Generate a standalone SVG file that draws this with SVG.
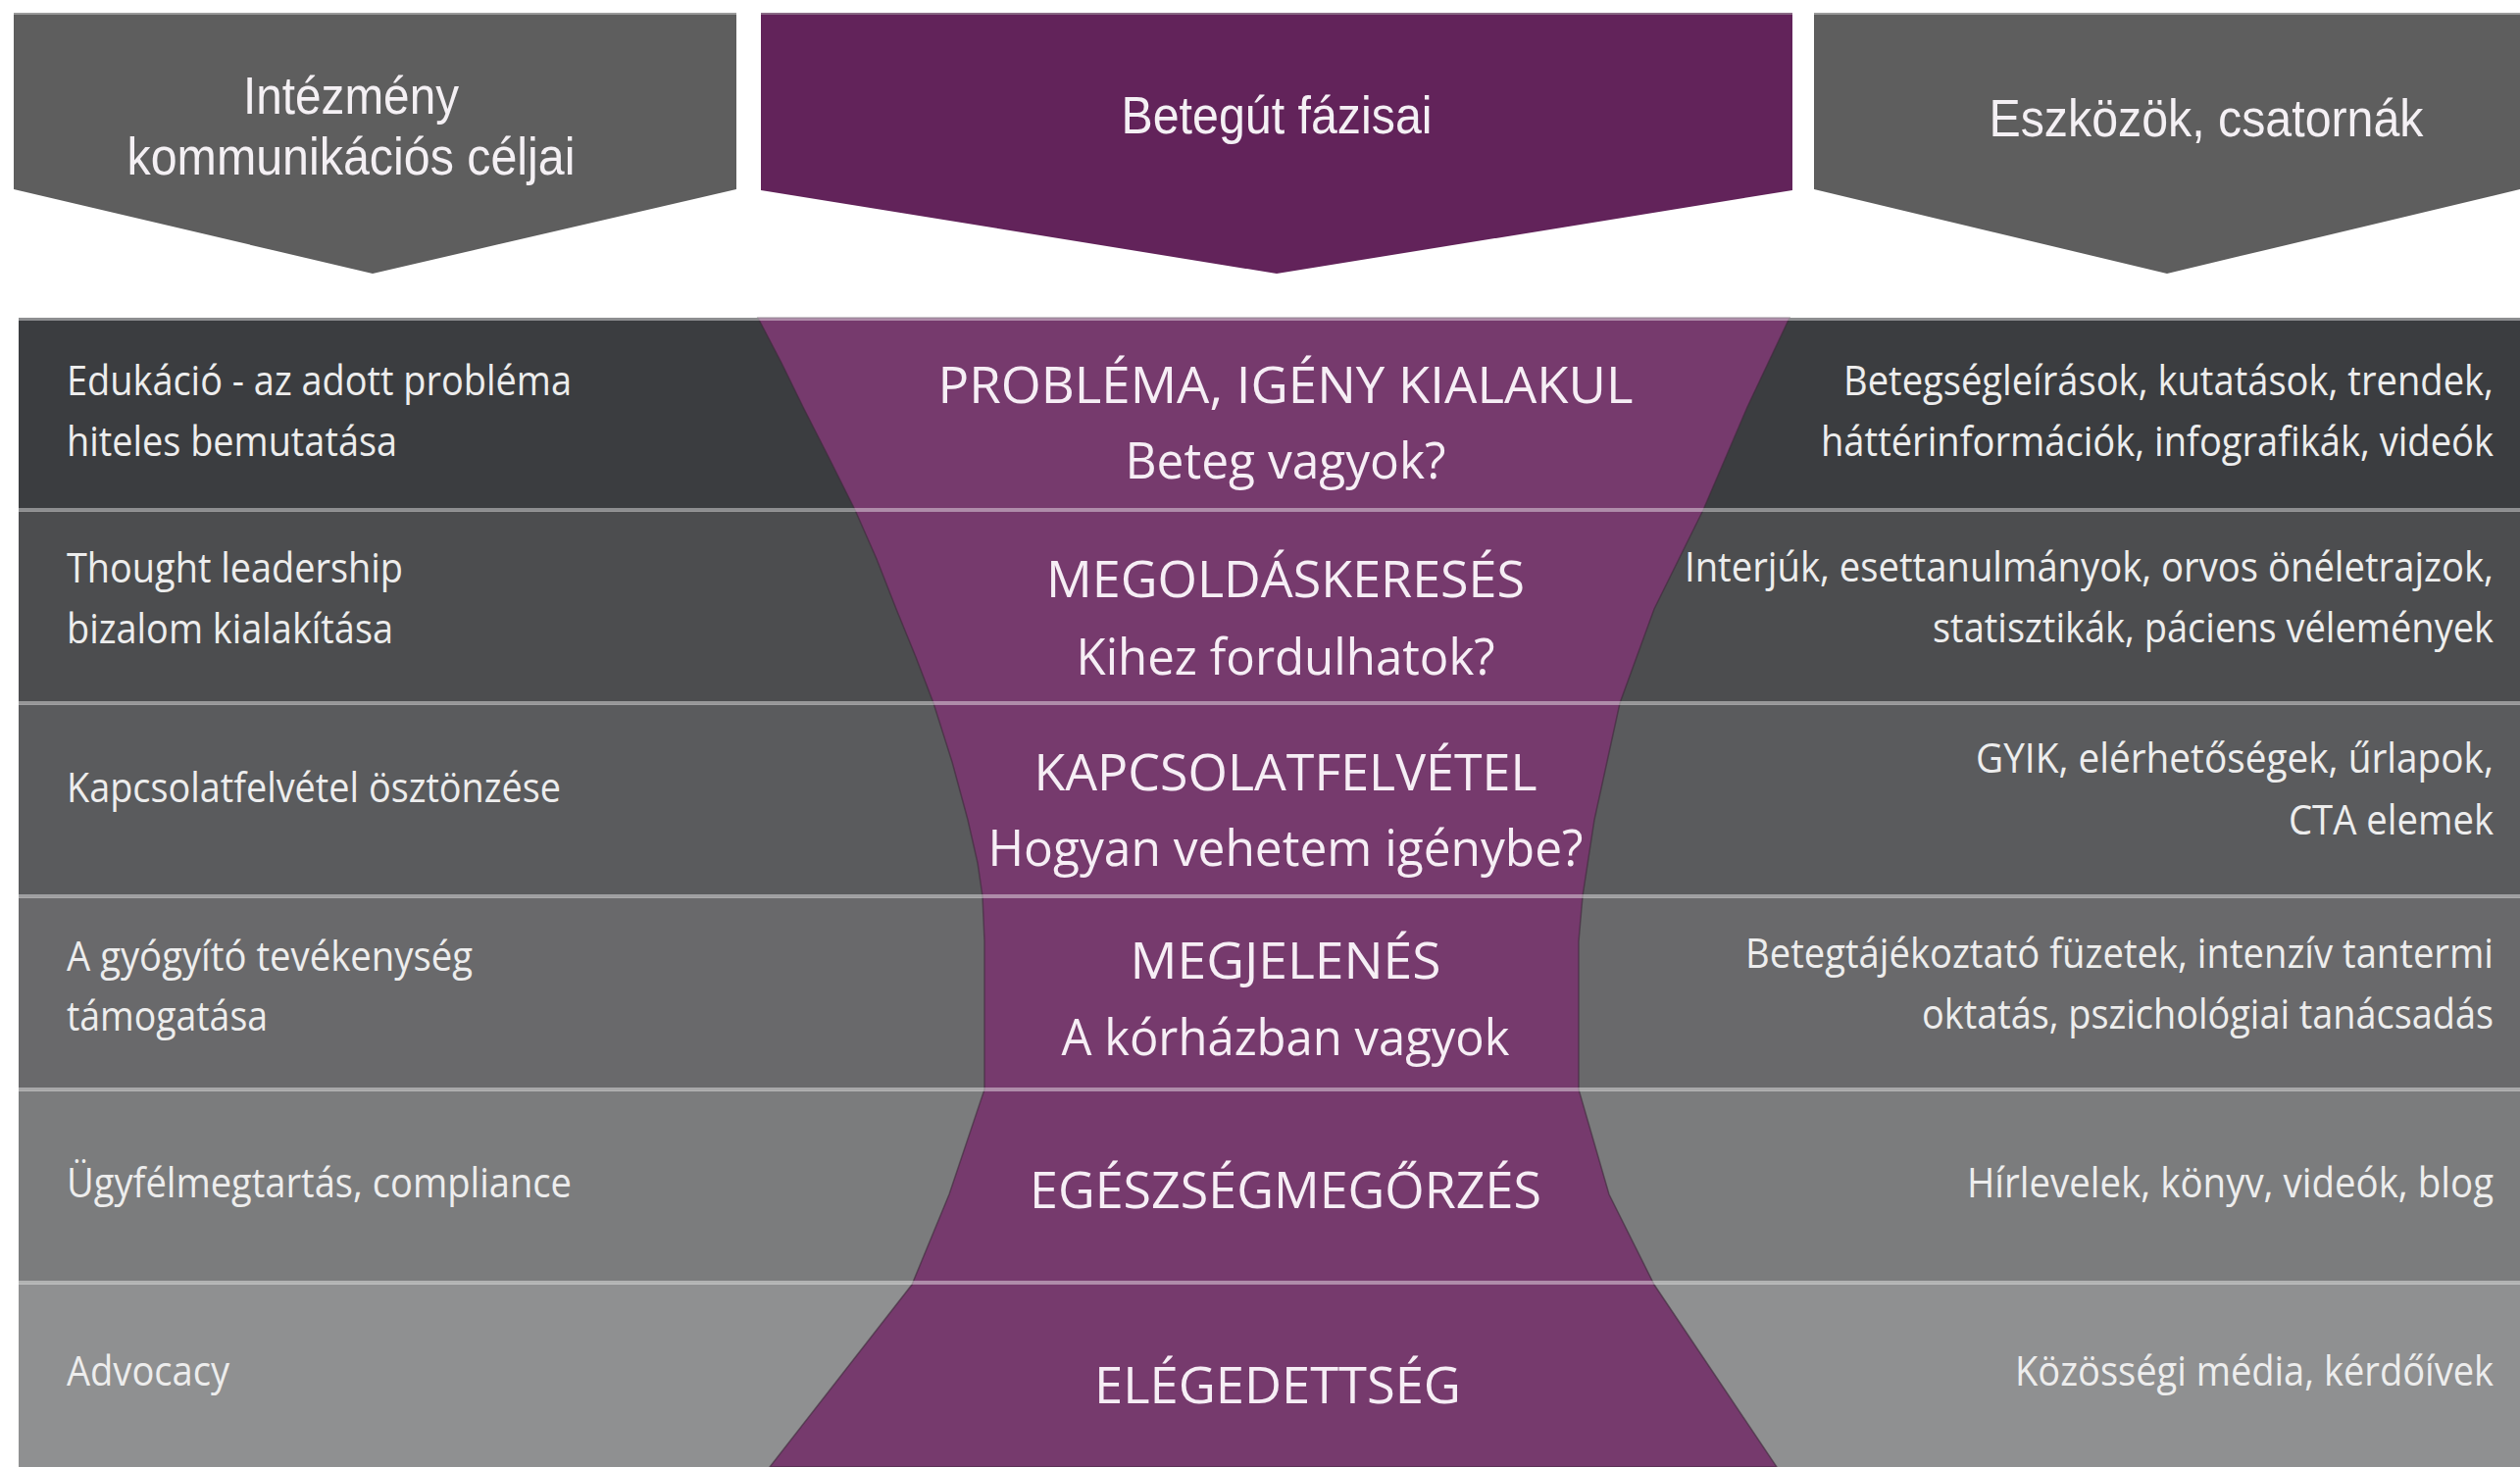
<svg xmlns="http://www.w3.org/2000/svg" width="2570" height="1496" viewBox="0 0 2570 1496">
<style>
.hdr{font-family:"Liberation Sans",Arial,sans-serif;font-size:54px;fill:#f4f0f4;text-anchor:middle}
.lt{font-family:"Open Sans","DejaVu Sans",sans-serif;font-size:42px;fill:#ededed}
.rt{font-family:"Open Sans","DejaVu Sans",sans-serif;font-size:42px;fill:#ededed;text-anchor:end}
.ct{font-family:"Open Sans","DejaVu Sans",sans-serif;font-size:52px;fill:#f6eef5;text-anchor:middle}
.sep{stroke:#ffffff;stroke-opacity:0.42;stroke-width:4}
</style>
<rect x="0" y="0" width="2570" height="1496" fill="#ffffff"/>

<g id="header-left">
<polygon points="14,14 751,14 751,193 380,279 14,193" fill="#5e5e5e"/>
<line x1="14" y1="14" x2="751" y2="14" stroke="#9a9a9a" stroke-width="2"/>
<text class="hdr" x="358" y="116" textLength="220" lengthAdjust="spacingAndGlyphs">Intézmény</text>
<text class="hdr" x="358" y="178" textLength="457" lengthAdjust="spacingAndGlyphs">kommunikációs céljai</text>
</g>

<g id="header-middle">
<polygon points="776,14 1828,14 1828,194 1302,279 776,194" fill="#62235a"/>
<line x1="776" y1="14" x2="1828" y2="14" stroke="#8a6a86" stroke-width="2"/>
<text class="hdr" x="1302" y="136" textLength="317" lengthAdjust="spacingAndGlyphs">Betegút fázisai</text>
</g>

<g id="header-right">
<polygon points="1850,14 2570,14 2570,193 2210,279 1850,193" fill="#5e5e5e"/>
<line x1="1850" y1="14" x2="2570" y2="14" stroke="#9a9a9a" stroke-width="2"/>
<text class="hdr" x="2250" y="139" textLength="443" lengthAdjust="spacingAndGlyphs">Eszközök, csatornák</text>
</g>

<g id="rows">
<rect x="19" y="324" width="2551" height="197" fill="#3b3d40"/>
<rect x="19" y="521" width="2551" height="197" fill="#4c4d4f"/>
<rect x="19" y="718" width="2551" height="197" fill="#5a5b5d"/>
<rect x="19" y="915" width="2551" height="197" fill="#69696b"/>
<rect x="19" y="1112" width="2551" height="197" fill="#7b7c7d"/>
<rect x="19" y="1309" width="2551" height="187" fill="#8f9091"/>
</g>

<g id="funnel">
<path d="M773,324 L797,370 L819,415 L846,468 L872,520 L894,570 L914,621 L934,670 L952,717 L971,777 L987,836 L997,880 L1002,914 L1004,960 L1004,1111 L968,1218 L930,1310 L785,1496 L1812,1496 L1687,1310 L1641,1218 L1610,1111 L1610,960 L1614,914 L1626,836 L1652,717 L1687,621 L1737,520 L1782,415 L1825,324 Z" fill="#763a6d" stroke="#3e2a3b" stroke-width="1.5" stroke-opacity="0.6"/>
</g>

<g id="connectors">
<line class="sep" x1="19" y1="325" x2="2570" y2="325" stroke-opacity="0.3"/>
<line class="sep" x1="19" y1="520" x2="2570" y2="520"/>
<line class="sep" x1="19" y1="717" x2="2570" y2="717"/>
<line class="sep" x1="19" y1="914" x2="2570" y2="914"/>
<line class="sep" x1="19" y1="1111" x2="2570" y2="1111"/>
<line class="sep" x1="19" y1="1308" x2="2570" y2="1308"/>
</g>

<g id="row1">
<text class="lt" x="68" y="403" textLength="515" lengthAdjust="spacingAndGlyphs">Edukáció - az adott probléma</text>
<text class="lt" x="68" y="465" textLength="337" lengthAdjust="spacingAndGlyphs">hiteles bemutatása</text>
<text class="ct" x="1311" y="411" textLength="709" lengthAdjust="spacingAndGlyphs">PROBLÉMA, IGÉNY KIALAKUL</text>
<text class="ct" x="1311" y="488" textLength="327" lengthAdjust="spacingAndGlyphs">Beteg vagyok?</text>
<text class="rt" x="2543" y="403" textLength="663" lengthAdjust="spacingAndGlyphs">Betegségleírások, kutatások, trendek,</text>
<text class="rt" x="2543" y="465" textLength="686" lengthAdjust="spacingAndGlyphs">háttérinformációk, infografikák, videók</text>
</g>

<g id="row2">
<text class="lt" x="68" y="594" textLength="343" lengthAdjust="spacingAndGlyphs">Thought leadership</text>
<text class="lt" x="68" y="656" textLength="333" lengthAdjust="spacingAndGlyphs">bizalom kialakítása</text>
<text class="ct" x="1311" y="609" textLength="488" lengthAdjust="spacingAndGlyphs">MEGOLDÁSKERESÉS</text>
<text class="ct" x="1311" y="688" textLength="427" lengthAdjust="spacingAndGlyphs">Kihez fordulhatok?</text>
<text class="rt" x="2543" y="593" textLength="825" lengthAdjust="spacingAndGlyphs">Interjúk, esettanulmányok, orvos önéletrajzok,</text>
<text class="rt" x="2543" y="655" textLength="572" lengthAdjust="spacingAndGlyphs">statisztikák, páciens vélemények</text>
</g>

<g id="row3">
<text class="lt" x="68" y="818" textLength="504" lengthAdjust="spacingAndGlyphs">Kapcsolatfelvétel ösztönzése</text>
<text class="ct" x="1311" y="806" textLength="513" lengthAdjust="spacingAndGlyphs">KAPCSOLATFELVÉTEL</text>
<text class="ct" x="1311" y="883" textLength="607" lengthAdjust="spacingAndGlyphs">Hogyan vehetem igénybe?</text>
<text class="rt" x="2543" y="788" textLength="528" lengthAdjust="spacingAndGlyphs">GYIK, elérhetőségek, űrlapok,</text>
<text class="rt" x="2543" y="851" textLength="209" lengthAdjust="spacingAndGlyphs">CTA elemek</text>
</g>

<g id="row4">
<text class="lt" x="68" y="990" textLength="414" lengthAdjust="spacingAndGlyphs">A gyógyító tevékenység</text>
<text class="lt" x="68" y="1051" textLength="205" lengthAdjust="spacingAndGlyphs">támogatása</text>
<text class="ct" x="1311" y="998" textLength="317" lengthAdjust="spacingAndGlyphs">MEGJELENÉS</text>
<text class="ct" x="1311" y="1076" textLength="457" lengthAdjust="spacingAndGlyphs">A kórházban vagyok</text>
<text class="rt" x="2543" y="987" textLength="763" lengthAdjust="spacingAndGlyphs">Betegtájékoztató füzetek, intenzív tantermi</text>
<text class="rt" x="2543" y="1049" textLength="583" lengthAdjust="spacingAndGlyphs">oktatás, pszichológiai tanácsadás</text>
</g>

<g id="row5">
<text class="lt" x="68" y="1221" textLength="515" lengthAdjust="spacingAndGlyphs">Ügyfélmegtartás, compliance</text>
<text class="ct" x="1311" y="1232" textLength="522" lengthAdjust="spacingAndGlyphs">EGÉSZSÉGMEGŐRZÉS</text>
<text class="rt" x="2543" y="1221" textLength="537" lengthAdjust="spacingAndGlyphs">Hírlevelek, könyv, videók, blog</text>
</g>

<g id="row6">
<text class="lt" x="68" y="1413" textLength="166" lengthAdjust="spacingAndGlyphs">Advocacy</text>
<text class="ct" x="1303" y="1431" textLength="374" lengthAdjust="spacingAndGlyphs">ELÉGEDETTSÉG</text>
<text class="rt" x="2543" y="1413" textLength="488" lengthAdjust="spacingAndGlyphs">Közösségi média, kérdőívek</text>
</g>
</svg>
